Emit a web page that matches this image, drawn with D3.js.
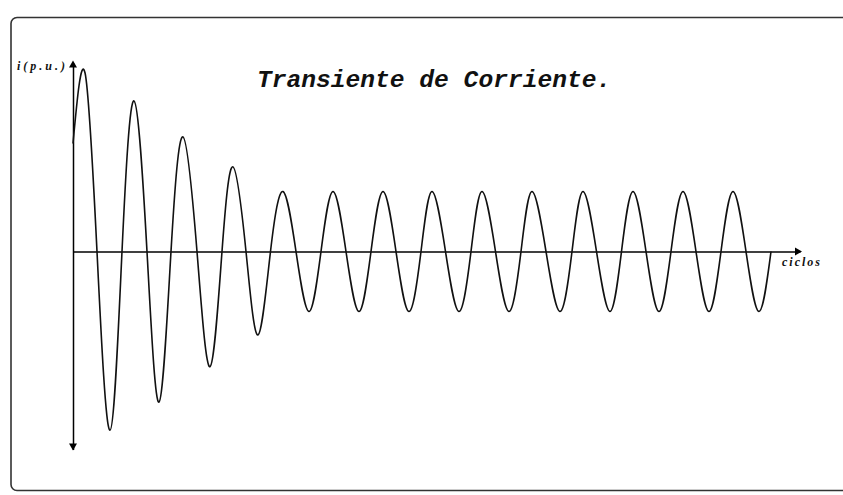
<!DOCTYPE html>
<html>
<head>
<meta charset="utf-8">
<script src="https://cdn.jsdelivr.net/npm/d3@7"></script>
<style>
  html, body { margin: 0; padding: 0; background: #fff; }
  svg { display: block; }
</style>
</head>
<body>
<div id="chart"></div>
<script>
// time in cycles, current in p.u. (peaks, troughs and zero crossings)
const cycles = [
    0, 0.24, 0.48, 0.74, 0.98, 1.22, 1.48, 1.72, 1.96, 2.20, 2.48, 2.74, 2.98,
    3.20, 3.46, 3.70, 3.95, 4.20, 4.46, 4.72, 4.96, 5.20, 5.46, 5.72, 5.96,
    6.20, 6.46, 6.72, 6.96, 7.18, 7.45, 7.72, 7.96, 8.18, 8.45, 8.72, 8.96,
    9.18, 9.46, 9.74, 9.98, 10.20, 10.47, 10.74, 10.97, 11.20, 11.46, 11.72, 11.96,
    12.20, 12.46, 12.72, 12.96, 13.20, 13.46, 13.72, 13.96
];
const current = [
    1.8, 2.98, 0, -2.98, 0, 2.51, 0, -2.51, 0, 1.91, 0, -1.92, 0,
    1.41, 0, -1.39, 0, 1.0, 0, -1.0, 0, 1.0, 0, -1.0, 0,
    1.0, 0, -1.0, 0, 1.0, 0, -1.0, 0, 1.0, 0, -1.0, 0,
    1.0, 0, -1.0, 0, 1.0, 0, -1.0, 0, 1.0, 0, -1.0, 0,
    1.0, 0, -1.0, 0, 1.0, 0, -1.0, 0
];

const title = "Transiente de Corriente.";
const yLabel = "i(p.u.)";
const xLabel = "ciclos";

const W = 843, H = 495;

const svg = d3.select("#chart")
    .append("svg")
    .attr("width", W)
    .attr("height", H);

// frame (right side runs off the picture)
svg.append("rect")
    .attr("x", 11)
    .attr("y", 17.5)
    .attr("width", 845)
    .attr("height", 473)
    .attr("rx", 6)
    .attr("fill", "none")
    .attr("stroke", "#333")
    .attr("stroke-width", 1.6);

const x = d3.scaleLinear().domain([0, 14.54]).range([73, 800]);
const y = d3.scaleLinear().domain([-3.3, 3.15]).range([449.5, 62.5]);

// axes: bare lines through the origin, no ticks
svg.append("g")
    .attr("transform", `translate(0,${y(0)})`)
    .call(d3.axisBottom(x).tickValues([]).tickSizeOuter(0))
    .call(g => g.select(".domain").attr("stroke", "#000").attr("stroke-width", 1.5));

svg.append("g")
    .attr("transform", `translate(${x(0)},0)`)
    .call(d3.axisLeft(y).tickValues([]).tickSizeOuter(0))
    .call(g => g.select(".domain").attr("stroke", "#000").attr("stroke-width", 1.5));

// arrow heads
const arrow = (px, py, dir) => {
    const s = 4, l = 7;
    let pts;
    if (dir === "up") pts = [[px, py], [px - s, py + l], [px + s, py + l]];
    else if (dir === "down") pts = [[px, py], [px - s, py - l], [px + s, py - l]];
    else pts = [[px, py], [px - l, py - s], [px - l, py + s]];
    svg.append("path")
        .attr("d", "M" + pts.join("L") + "Z")
        .attr("fill", "#000");
};
arrow(x(0), y(3.15) - 2, "up");
arrow(x(0), y(-3.3) + 1, "down");
arrow(x(14.54) + 2, y(0), "right");

// current trace
const line = d3.line()
    .x((d, i) => x(cycles[i]))
    .y(d => y(d))
    .curve(d3.curveNatural);

svg.append("path")
    .datum(current)
    .attr("d", line)
    .attr("fill", "none")
    .attr("stroke", "#111")
    .attr("stroke-width", 1.6);

// texts
svg.append("text")
    .attr("x", 257)
    .attr("y", 87)
    .attr("font-family", "Liberation Mono, monospace")
    .attr("font-style", "italic")
    .attr("font-weight", "bold")
    .attr("font-size", "24.6px")
    .attr("fill", "#111")
    .text(title);

svg.append("text")
    .attr("x", 17)
    .attr("y", 70)
    .attr("font-family", "Liberation Serif, serif")
    .attr("font-style", "italic")
    .attr("font-weight", "bold")
    .attr("font-size", "12px")
    .attr("letter-spacing", "3px")
    .attr("fill", "#111")
    .text(yLabel);

svg.append("text")
    .attr("x", 782)
    .attr("y", 266)
    .attr("font-family", "Liberation Serif, serif")
    .attr("font-style", "italic")
    .attr("font-weight", "bold")
    .attr("font-size", "12px")
    .attr("letter-spacing", "2px")
    .attr("fill", "#111")
    .text(xLabel);
</script>
</body>
</html>
